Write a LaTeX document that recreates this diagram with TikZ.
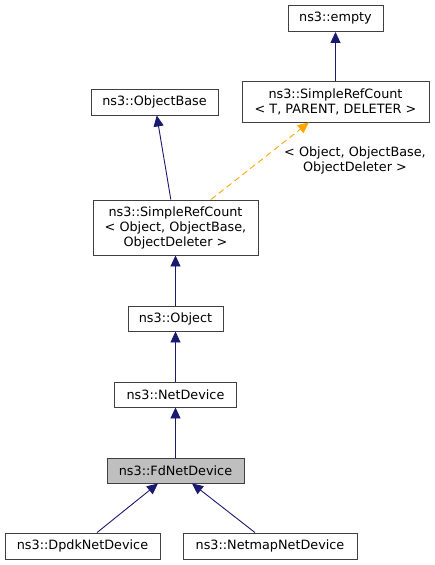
\documentclass[tikz,border=0pt]{standalone}
\usepackage{fontspec}
\setmainfont{DejaVu Sans}
\usetikzlibrary{positioning,arrows.meta}
\definecolor{navyedge}{HTML}{191970}
\definecolor{tplorange}{HTML}{FFA500}

\begin{document}
\begin{tikzpicture}[x=1pt,y=-1pt,
	box/.style={draw=black!75,line width=0.9pt,fill=white,rectangle,inner sep=1pt,align=center,font=\fontsize{12.8}{15}\selectfont},
	lbl/.style={align=center,inner sep=0pt,font=\fontsize{12.8}{15}\selectfont},
	inherit/.style={draw=navyedge,line width=0.9pt,-{Triangle[length=11pt,width=10pt,fill=navyedge]}}]
\useasboundingbox (0,0) rectangle (435,565);
\node[box,minimum width=95pt,minimum height=26pt] (empty) at (335.5,18.5) {ns3::empty};
\node[box,minimum width=187pt,minimum height=41pt] (srctpl) at (335.5,101.5) {ns3::SimpleRefCount\\< T, PARENT, DELETER >};
\node[box,minimum width=127pt,minimum height=26pt] (objbase) at (154.5,102) {ns3::ObjectBase};
\node[box,minimum width=165pt,minimum height=55pt] (srcobj) at (175.5,227.5) {ns3::SimpleRefCount\\< Object, ObjectBase,\\ObjectDeleter >};
\node[box,minimum width=95pt,minimum height=25pt] (object) at (175.5,318.5) {ns3::Object};
\node[box,minimum width=122pt,minimum height=25pt] (netdev) at (175.5,394.5) {ns3::NetDevice};
\node[box,fill=black!25,minimum width=137pt,minimum height=25pt] (fdnet) at (175.5,470.5) {ns3::FdNetDevice};
\node[box,minimum width=155pt,minimum height=26pt] (dpdk) at (82.5,546) {ns3::DpdkNetDevice};
\node[box,minimum width=174pt,minimum height=26pt] (netmap) at (270,546) {ns3::NetmapNetDevice};
\node[lbl] (tplargs) at (355,160) {< Object, ObjectBase,\\ObjectDeleter >};
\foreach \a/\b in {srctpl/empty,srcobj/objbase,object/srcobj,netdev/object,fdnet/netdev}
	\draw[inherit] (\a) -- (\b);
\draw[inherit] ([xshift=14.5pt]dpdk.north) -- ([xshift=-17.5pt]fdnet.south);
\draw[inherit] ([xshift=-15pt]netmap.north) -- ([xshift=16.5pt]fdnet.south);
\draw[inherit,draw=tplorange,dash pattern=on 6pt off 4pt,-{Triangle[length=11pt,width=10pt,fill=tplorange]}] (srcobj) -- (srctpl);
\end{tikzpicture}
\end{document}
